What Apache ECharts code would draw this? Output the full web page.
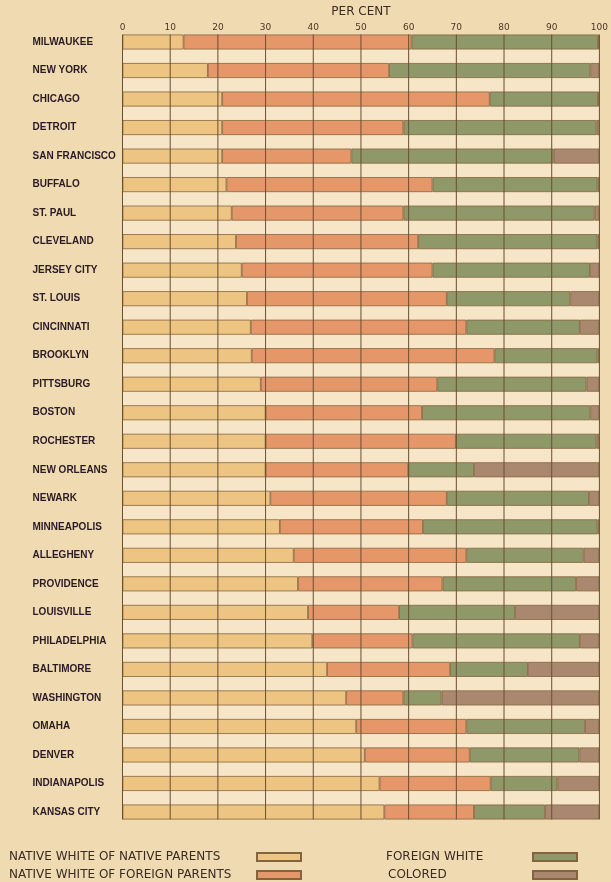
<!DOCTYPE html>
<html>
<head>
<meta charset="utf-8">
<script src="https://cdn.jsdelivr.net/npm/echarts@6/dist/echarts.min.js"></script>
<style>
html,body{margin:0;padding:0;background:#f0dab2;}
#chart{width:611px;height:882px;}
</style>
</head>
<body>
<div id="chart"></div>
<script>
const cities = ["MILWAUKEE","NEW YORK","CHICAGO","DETROIT","SAN FRANCISCO","BUFFALO","ST. PAUL","CLEVELAND","JERSEY CITY","ST. LOUIS","CINCINNATI","BROOKLYN","PITTSBURG","BOSTON","ROCHESTER","NEW ORLEANS","NEWARK","MINNEAPOLIS","ALLEGHENY","PROVIDENCE","LOUISVILLE","PHILADELPHIA","BALTIMORE","WASHINGTON","OMAHA","DENVER","INDIANAPOLIS","KANSAS CITY"];
const nativeNative  = [12.8,17.9,20.9,20.9,20.9,21.8,22.9,23.8,25.0,26.1,26.9,27.1,29.0,30.0,30.0,30.0,31.0,33.0,35.9,36.8,38.9,39.8,42.9,46.9,49.0,50.8,53.9,54.9];
const nativeForeign = [47.8,38.0,56.1,38.0,27.1,43.2,36.0,38.2,40.0,41.9,45.2,50.9,37.0,32.8,39.9,29.9,37.0,30.0,36.2,30.3,19.1,21.0,25.8,12.0,23.1,22.0,23.3,18.8];
const foreignWhite  = [39.1,42.2,22.7,40.5,42.4,34.6,40.1,37.6,33.0,25.9,23.8,21.6,31.3,35.3,29.5,13.8,29.8,36.6,24.6,28.0,24.3,35.1,16.3, 8.0,24.9,23.0,14.0,14.9];
const colored       = [ 0.3, 1.9, 0.3, 0.6, 9.6, 0.4, 1.0, 0.4, 2.0, 6.1, 4.1, 0.4, 2.7, 1.9, 0.6,26.3, 2.2, 0.4, 3.3, 4.9,17.7, 4.1,15.0,33.1, 3.0, 4.2, 8.8,11.4];
const xTicks = [0,10,20,30,40,50,60,70,80,90,100];
const seriesNames = ["NATIVE WHITE OF NATIVE PARENTS","NATIVE WHITE OF FOREIGN PARENTS","FOREIGN WHITE","COLORED"];

const colors = ["#eec482","#e6976a","#8e9869","#aa8870"];
const BAR = 15;
const chart = echarts.init(document.getElementById('chart'));

function barSeries(i, data){
  return {
    name: seriesNames[i], type:'bar', stack:'total', data: data,
    barWidth: BAR, clip:false,
    itemStyle:{color:colors[i], borderColor:'#84643f', borderWidth:0.8},
    emphasis:{disabled:true}
  };
}
function legendFor(i, right, top, width){
  return {
    data:[seriesNames[i]], right:right, top:top, orient:'horizontal', align:'right',
    icon:'rect', itemWidth:44, itemHeight:8, selectedMode:false, padding:0,
    formatter: function(n){ return '{t|' + n + '}'; },
    textStyle:{
      fontFamily:'DejaVu Sans', fontSize:12, color:'#3b2b22',
      rich:{t:{width:width, align:'left', fontFamily:'DejaVu Sans', fontSize:12, color:'#3b2b22'}}
    }
  };
}

chart.setOption({
  backgroundColor:'#f0dab2',
  animation:false,
  grid:{left:122.5, right:9.5, top:42, bottom:70, show:true, backgroundColor:'#f6e6c7', borderWidth:0},
  xAxis:{
    type:'value', position:'top', min:0, max:100, interval:10,
    name:'PER CENT', nameLocation:'middle', nameGap:17,
    nameTextStyle:{fontFamily:'DejaVu Sans', fontSize:12, color:'#3b2b22'},
    axisLine:{show:false}, axisTick:{show:false}, splitLine:{show:false},
    axisLabel:{fontFamily:'DejaVu Sans', fontSize:9, color:'#4a3526', margin:10}
  },
  yAxis:{
    type:'category', data:cities, inverse:true, boundaryGap:false,
    axisLine:{show:false}, axisTick:{show:false}, splitLine:{show:false},
    axisLabel:{align:'left', margin:90, fontFamily:'Liberation Sans',
      fontWeight:'bold', fontSize:10, color:'#2a1a24'}
  },
  legend:[
    legendFor(0, 309, 851, 243),
    legendFor(1, 309, 869, 243),
    legendFor(2, 33, 851, 142),
    legendFor(3, 33, 869, 140)
  ],
  series:[
    barSeries(0, nativeNative),
    barSeries(1, nativeForeign),
    barSeries(2, foreignWhite),
    barSeries(3, colored),
    {
      type:'custom', clip:false, silent:true, z:5,
      data: xTicks.map(t => [t, 0]),
      encode:{x:0, y:1},
      renderItem:function(params, api){
        const v = api.value(0);
        const p0 = api.coord([v, 0]);
        const p1 = api.coord([v, cities.length-1]);
        return {type:'line', shape:{x1:p0[0], y1:p0[1]-BAR/2, x2:p1[0], y2:p1[1]+BAR/2},
          style:{stroke:'#6a4e32', lineWidth:1}};
      }
    }
  ]
});
</script>
</body>
</html>
